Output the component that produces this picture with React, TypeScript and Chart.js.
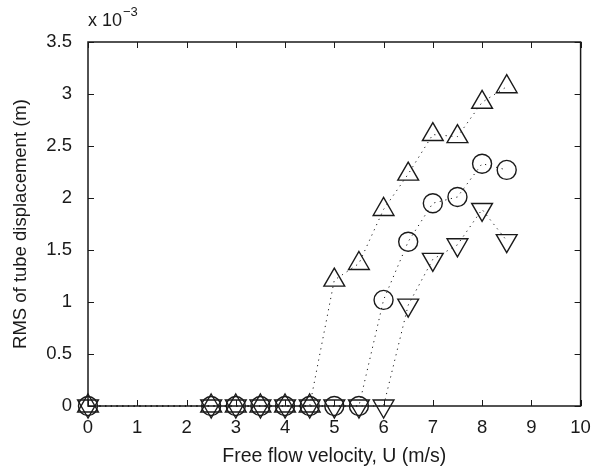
import React, { useEffect, useRef } from "react";
import { Chart, registerables } from "chart.js";

Chart.register(...registerables);

const xUp = [0, 2.5, 3, 3.5, 4, 4.5, 5, 5.5, 6, 6.5, 7, 7.5, 8, 8.5];
const yUp = [0, 0, 0, 0, 0, 0, 1.21, 1.37, 1.89, 2.23, 2.61, 2.59, 2.92, 3.07];
const xCircle = [0, 2.5, 3, 3.5, 4, 4.5, 5, 5.5, 6, 6.5, 7, 7.5, 8, 8.5];
const yCircle = [0, 0, 0, 0, 0, 0, 0, 0, 1.02, 1.58, 1.95, 2.01, 2.33, 2.27];
const xDown = [0, 2.5, 3, 3.5, 4, 4.5, 5, 5.5, 6, 6.5, 7, 7.5, 8, 8.5];
const yDown = [0, 0, 0, 0, 0, 0, 0, 0, 0, 0.97, 1.41, 1.55, 1.89, 1.59];

const xTicks = [0, 1, 2, 3, 4, 5, 6, 7, 8, 9, 10];
const yTicks = [0, 0.5, 1, 1.5, 2, 2.5, 3, 3.5];

const FONT = "'Liberation Sans', Arial, sans-serif";
const INK = "#1a1a1a";

const pts = (xs: number[], ys: number[]) => xs.map((x, i) => ({ x, y: ys[i] }));

const framePlugin = {
  id: "frame",
  beforeDatasetsDraw(chart: any) {
    const { ctx, chartArea: a, scales } = chart;
    ctx.save();
    ctx.strokeStyle = INK;
    ctx.lineWidth = 1;
    const tl = 6;
    ctx.beginPath();
    xTicks.forEach((v) => {
      const px = Math.round(scales.x.getPixelForValue(v)) + 0.5;
      ctx.moveTo(px, a.bottom);
      ctx.lineTo(px, a.bottom - tl);
      ctx.moveTo(px, a.top);
      ctx.lineTo(px, a.top + tl);
    });
    yTicks.forEach((v) => {
      const py = Math.round(scales.y.getPixelForValue(v)) + 0.5;
      ctx.moveTo(a.left, py);
      ctx.lineTo(a.left + tl, py);
      ctx.moveTo(a.right, py);
      ctx.lineTo(a.right - tl, py);
    });
    ctx.stroke();
    ctx.lineWidth = 1.5;
    ctx.strokeRect(a.left, a.top, a.right - a.left, a.bottom - a.top);
    // exponent label
    ctx.fillStyle = INK;
    ctx.textBaseline = "alphabetic";
    ctx.textAlign = "left";
    ctx.font = `18px ${FONT}`;
    ctx.fillText("x 10", a.left, 26);
    const w = ctx.measureText("x 10").width;
    ctx.font = `13px ${FONT}`;
    ctx.fillText("\u22123", a.left + w + 1, 16);
    ctx.restore();
  },
};

export default function App() {
  const ref = useRef<HTMLCanvasElement>(null);
  useEffect(() => {
    document.body.style.margin = "0";
    const common = {
      showLine: true,
      borderColor: INK,
      borderWidth: 1,
      borderDash: [1.2, 4.5],
      pointBorderColor: INK,
      pointBackgroundColor: "rgba(0,0,0,0)",
      pointBorderWidth: 1.4,
      clip: false as any,
      fill: false,
    };
    const chart = new Chart(ref.current!, {
      type: "scatter",
      data: {
        datasets: [
          { ...common, label: "up", data: pts(xUp, yUp), pointStyle: "triangle", pointRadius: 12 },
          { ...common, label: "circle", data: pts(xCircle, yCircle), pointStyle: "circle", pointRadius: 9.5 },
          { ...common, label: "down", data: pts(xDown, yDown), pointStyle: "triangle", pointRotation: 180, pointRadius: 12 },
        ],
      },
      options: {
        animation: false,
        responsive: false,
        events: [],
        layout: { padding: { left: 0, top: 42, right: 11, bottom: 0 } },
        plugins: { legend: { display: false }, tooltip: { enabled: false } },
        scales: {
          x: {
            type: "linear",
            min: 0,
            max: 10,
            afterFit: (s: any) => { s.height = 67; s.paddingLeft = 0; s.paddingRight = 0; },
            afterBuildTicks: (s: any) => { s.ticks = xTicks.map((v) => ({ value: v })); },
            grid: { display: false, drawTicks: false },
            border: { display: false },
            ticks: { color: INK, font: { family: FONT, size: 18.5 }, padding: 11, maxRotation: 0, callback: (v: any) => String(v) },
            title: { display: true, text: "Free flow velocity, U (m/s)", color: INK, font: { family: FONT, size: 19.5 }, padding: { top: 0, bottom: 5 } },
          },
          y: {
            type: "linear",
            min: 0,
            max: 3.5,
            afterFit: (s: any) => { s.width = 88; s.paddingTop = 0; s.paddingBottom = 0; },
            afterBuildTicks: (s: any) => { s.ticks = yTicks.map((v) => ({ value: v })); },
            grid: { display: false, drawTicks: false },
            border: { display: false },
            ticks: { color: INK, font: { family: FONT, size: 18.5 }, padding: 16, callback: (v: any) => String(v) },
            title: { display: true, text: "RMS of tube displacement (m)", color: INK, font: { family: FONT, size: 18.5 }, padding: { top: 10, bottom: 0 } },
          },
        },
      },
      plugins: [framePlugin],
    });
    return () => chart.destroy();
  }, []);
  return <canvas ref={ref} width={594} height={473} style={{ display: "block" }} />;
}
